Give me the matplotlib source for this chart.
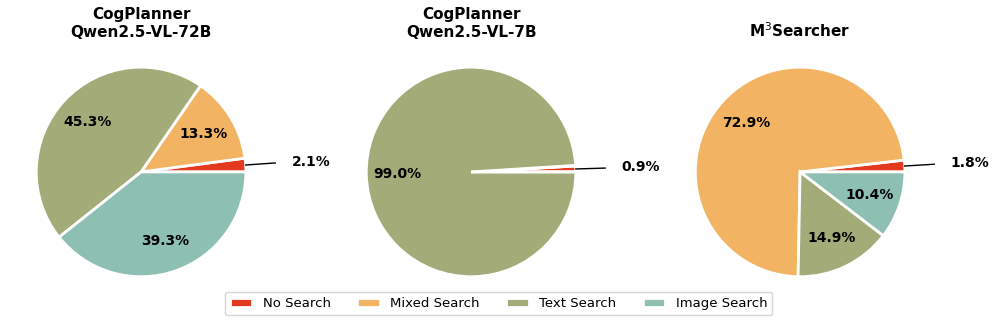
import numpy as np
import matplotlib
matplotlib.use('Agg')
import matplotlib.pyplot as plt

# Share of search actions per planner
categories = ['No Search', 'Mixed Search', 'Text Search', 'Image Search']
colors = ['#E2391F', '#F2B463', '#A3AB78', '#8EBFB3']

titles = ['CogPlanner\nQwen2.5-VL-72B', 'CogPlanner\nQwen2.5-VL-7B', r'M$^3$Searcher']
shares_72b = [2.1, 13.3, 45.3, 39.3]
shares_7b = [0.9, 0.1, 99.0, 0.0]
shares_m3 = [1.8, 72.9, 14.9, 10.4]
all_shares = [shares_72b, shares_7b, shares_m3]

fig = plt.figure(figsize=(9.97, 3.25), dpi=100)
lefts = [0.010, 0.341, 0.671]

handles = None
for left, title, shares in zip(lefts, titles, all_shares):
    ax = fig.add_axes([left, 0.068, 0.263, 0.806])
    total = sum(shares)

    def fmt(p):
        # small slices get an outside label instead
        return '%.1f%%' % p if p >= 3 else ''

    wedges, _, autotexts = ax.pie(shares, colors=colors, startangle=0, counterclock=True,
                                  autopct=fmt, pctdistance=0.7,
                                  wedgeprops=dict(edgecolor='white', linewidth=2),
                                  textprops=dict(fontsize=10, fontweight='bold'))
    if handles is None:
        handles = wedges

    # outside label for the tiny "No Search" slice
    theta = np.deg2rad(shares[0] / total * 360 / 2)
    y = 1.3 * np.sin(theta)
    ax.plot([np.cos(theta), 1.28], [np.sin(theta), y], color='black', lw=1, clip_on=False)
    ax.text(1.62, y + 0.01, '%.1f%%' % shares[0], ha='center', va='center',
            fontsize=10, fontweight='bold')

    ax.set_title(title, fontsize=11, fontweight='bold', pad=3)

leg = fig.legend(handles, categories, loc='lower center', bbox_to_anchor=(0.5, 0.01),
                 ncol=4, fontsize=9.5, frameon=True, handleheight=0.7, handlelength=1.7,
                 columnspacing=2.0)

plt.savefig('out.png', dpi=100)
